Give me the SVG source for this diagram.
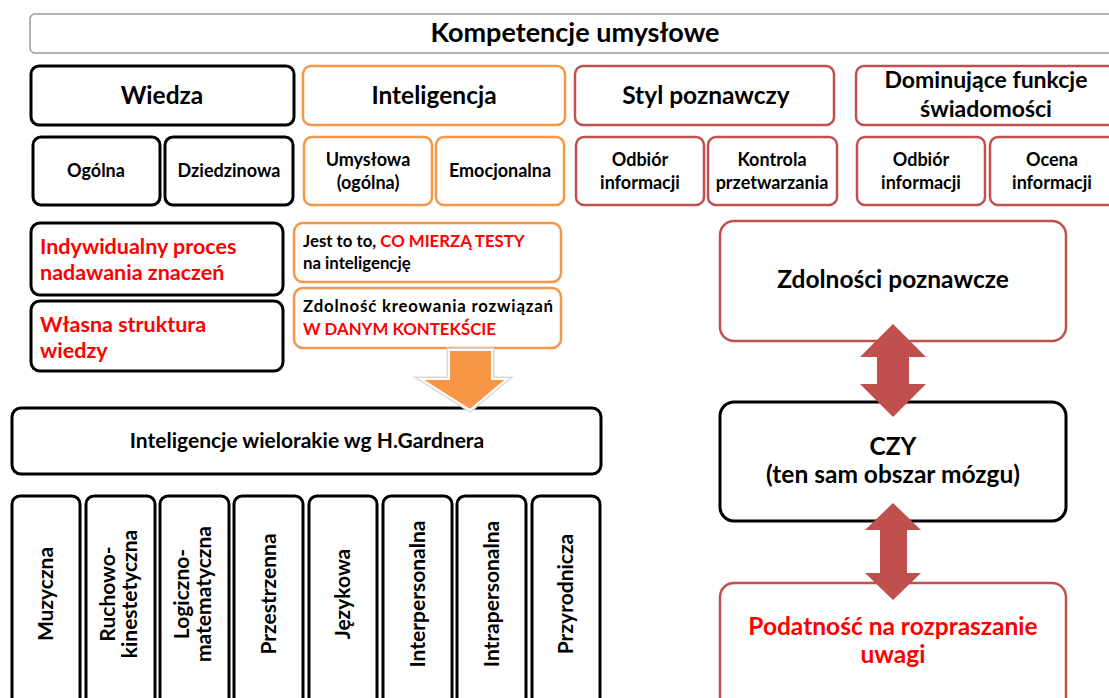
<svg xmlns="http://www.w3.org/2000/svg" width="1109" height="698" viewBox="0 0 1109 698">
<style>
text{font-family:Lato,"Liberation Sans","DejaVu Sans",sans-serif;font-weight:bold;fill:#000}
.k{fill:#fff;stroke:#000;stroke-width:3}
.o{fill:#fff;stroke:#f79646;stroke-width:2.5}
.r{fill:#fff;stroke:#c0504d;stroke-width:2.5}
.g{fill:#fff;stroke:#9a9a9a;stroke-width:1.5}
.red{fill:#ff0000}
.c{text-anchor:middle}
.t27{font-size:27px}
.h{font-size:24.5px}
.d{font-size:23px}
.s{font-size:18px}
.j{font-size:16.8px}
.v{font-size:21px}
.l{font-size:21.5px}
.b{font-size:24.5px}
</style>
<rect width="1109" height="698" fill="#fff"/>

<g id="title">
<rect class="g" x="30" y="14" width="1100" height="39" rx="5"/>
<text class="c t27" x="575" y="42">Kompetencje umysłowe</text>
</g>

<g id="wiedza"><rect class="k" x="31" y="66" width="263" height="59" rx="8"/><text class="c h" x="162" y="104">Wiedza</text></g>
<g id="inteligencja"><rect class="o" x="303" y="66" width="262" height="59" rx="8"/><text class="c h" x="434" y="104">Inteligencja</text></g>
<g id="styl"><rect class="r" x="575" y="66" width="259" height="59" rx="8"/><text class="c h" x="706" y="104">Styl poznawczy</text></g>
<g id="dominujace"><rect class="r" x="856" y="66" width="270" height="59" rx="8"/><text class="c d" x="986" y="88">Dominujące funkcje</text><text class="c d" x="986" y="117">świadomości</text></g>

<g id="ogolna"><rect class="k" x="33" y="137" width="127" height="68" rx="8"/><text class="c s" x="96" y="177">Ogólna</text></g>
<g id="dziedzinowa"><rect class="k" x="165" y="137" width="128" height="68" rx="8"/><text class="c s" x="229" y="177">Dziedzinowa</text></g>
<g id="umyslowa"><rect class="o" x="304" y="137" width="128" height="68" rx="8"/><text class="c s" x="368" y="166">Umysłowa</text><text class="c s" x="368" y="189">(ogólna)</text></g>
<g id="emocjonalna"><rect class="o" x="436" y="137" width="128" height="68" rx="8"/><text class="c s" x="500" y="177">Emocjonalna</text></g>
<g id="odbior1"><rect class="r" x="576" y="137" width="128" height="68" rx="8"/><text class="c s" x="640" y="166">Odbiór</text><text class="c s" x="640" y="189">informacji</text></g>
<g id="kontrola"><rect class="r" x="708" y="137" width="129" height="68" rx="8"/><text class="c s" x="772" y="166">Kontrola</text><text class="c s" x="772" y="189">przetwarzania</text></g>
<g id="odbior2"><rect class="r" x="857" y="137" width="128" height="68" rx="8"/><text class="c s" x="921" y="166">Odbiór</text><text class="c s" x="921" y="189">informacji</text></g>
<g id="ocena"><rect class="r" x="990" y="137" width="140" height="68" rx="8"/><text class="c s" x="1052" y="166">Ocena</text><text class="c s" x="1052" y="189">informacji</text></g>

<g id="indywidualny"><rect class="k" x="31" y="223" width="252" height="72" rx="9"/><text class="l red" x="40" y="254">Indywidualny proces</text><text class="l red" x="40" y="280">nadawania znaczeń</text></g>
<g id="wlasna"><rect class="k" x="31" y="301" width="252" height="70" rx="9"/><text class="l red" x="40" y="332">Własna struktura</text><text class="l red" x="40" y="358">wiedzy</text></g>
<g id="jest"><rect class="o" x="294" y="223" width="267" height="59" rx="9"/><text class="j" x="303" y="247">Jest to to, <tspan class="red">CO MIERZĄ TESTY</tspan></text><text class="j" x="303" y="269">na inteligencję</text></g>
<g id="zdolnosc"><rect class="o" x="294" y="288" width="267" height="60" rx="9"/><text class="j" x="303" y="312" textLength="250">Zdolność kreowania rozwiązań</text><text class="j red" x="303" y="335">W DANYM KONTEKŚCIE</text></g>

<g id="gardner"><rect class="k" x="12" y="408" width="589" height="66" rx="9"/><text class="c v" x="307" y="448">Inteligencje wielorakie wg H.Gardnera</text></g>

<g id="muzyczna"><rect class="k" x="12" y="496" width="68" height="215" rx="8"/><text class="c v" transform="translate(53,594) rotate(-90)">Muzyczna</text></g>
<g id="ruchowo"><rect class="k" x="86" y="496" width="69" height="215" rx="8"/><text class="c v" transform="translate(115,594) rotate(-90)">Ruchowo-</text><text class="c v" transform="translate(137,594) rotate(-90)">kinestetyczna</text></g>
<g id="logiczno"><rect class="k" x="160" y="496" width="69" height="215" rx="8"/><text class="c v" transform="translate(189,594) rotate(-90)">Logiczno-</text><text class="c v" transform="translate(211,594) rotate(-90)">matematyczna</text></g>
<g id="przestrzenna"><rect class="k" x="234" y="496" width="69" height="215" rx="8"/><text class="c v" transform="translate(276,594) rotate(-90)">Przestrzenna</text></g>
<g id="jezykowa"><rect class="k" x="309" y="496" width="68" height="215" rx="8"/><text class="c v" transform="translate(350,594) rotate(-90)">Językowa</text></g>
<g id="interpersonalna"><rect class="k" x="383" y="496" width="69" height="215" rx="8"/><text class="c v" transform="translate(425,594) rotate(-90)">Interpersonalna</text></g>
<g id="intrapersonalna"><rect class="k" x="457" y="496" width="69" height="215" rx="8"/><text class="c v" transform="translate(499,594) rotate(-90)">Intrapersonalna</text></g>
<g id="przyrodnicza"><rect class="k" x="532" y="496" width="68" height="215" rx="8"/><text class="c v" transform="translate(573,594) rotate(-90)">Przyrodnicza</text></g>

<g id="zdolnosci"><rect class="r" x="720" y="221" width="346" height="120" rx="14"/><text class="c b" x="893" y="288">Zdolności poznawcze</text></g>
<g id="czy"><rect class="k" x="720" y="402" width="346" height="119" rx="14"/><text class="c b" x="893" y="455">CZY</text><text class="c b" x="893" y="483">(ten sam obszar mózgu)</text></g>
<g id="podatnosc"><rect class="r" x="720" y="583" width="346" height="130" rx="14"/><text class="c b red" x="893" y="635">Podatność na rozpraszanie</text><text class="c b red" x="893" y="663">uwagi</text></g>

<g id="connectors">
<polygon points="449,350 492,350 492,379 507,379 470,410 421,379 449,379" fill="#f79646" stroke="#d9d9d9" stroke-width="5" stroke-linejoin="miter"/>
<polygon points="449,350 492,350 492,379 507,379 470,410 421,379 449,379" fill="#f79646" stroke="#fff" stroke-width="2"/>
<polygon points="893,324 926,357 909,357 909,384 926,384 893,417 860,384 877,384 877,357 860,357" fill="#c0504d"/>
<polygon points="893,503 921,530 907,530 907,573 921,573 893,600 865,573 880,573 880,530 865,530" fill="#c0504d"/>
</g>
</svg>
